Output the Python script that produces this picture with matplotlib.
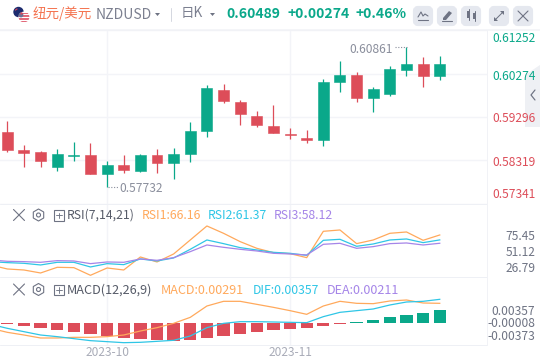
import matplotlib
matplotlib.use("Agg")
import matplotlib.pyplot as plt
from matplotlib.patches import Circle, FancyBboxPatch, Polygon, Rectangle, RegularPolygon
import numpy as np

plt.rcParams['font.family'] = ['Noto Sans CJK SC', 'DejaVu Sans']

W, H = 540, 364
DPI = 100
GREEN = '#0AA88A'
RED = '#DD4D59'
GRID = '#F3F4F8'
ORANGE = '#FFA95C'
BLUE = '#2FC6E6'
PURPLE = '#A585E8'
GREY = '#6E7383'

# candles (first trading day shown = index 0)
opens = [.58959, .58554, .58509, .58179, .58426, .58442, .58022, .58217, .58089, .58442,
         .58269, .58471, .58988, .59903, .59633, .59319, .59094, .58914, .58824, .58779,
         .60090, .60240, .59730, .59820, .60353, .60487, .60218]
highs = [.59213, .58667, .58532, .58577, .58734, .58712, .58307, .58442, .58465, .58577,
         .58599, .59184, .60015, .60038, .59678, .59431, .59566, .59049, .59004, .60150,
         .60555, .60308, .59971, .60443, .60861, .60645, .60667]
lows = [.58516, .58179, .58179, .58089, .58314, .58022, .57732, .58044, .58067, .58044,
        .57909, .58291, .58853, .59618, .59116, .59078, .58937, .58802, .58719, .58644,
        .59865, .59640, .59415, .59775, .60218, .59971, .60128]
closes = [.58561, .58494, .58314, .58465, .58442, .58022, .58217, .58112, .58442, .58269,
          .58465, .58982, .59948, .59656, .59364, .59116, .58937, .58898, .58779, .60083,
          .60240, .59730, .59926, .60375, .60487, .60218, .60489]

# indicator lines start one session before the first visible candle
rsi1 = [37.07, 33.18, 32.2, 29.3, 34.8, 34.48, 27.05, 34.15, 32.2, 44.82, 39.97, 47.74, 61.31, 74.89,
        67.78, 59.7, 53.23, 49.03, 48.06, 44.18, 69.72, 71.01, 57.76, 61.31, 67.78, 69.07, 60.99, 66.16]
rsi2 = [40.3, 39.33, 38.68, 37.07, 39.65, 39.65, 35.13, 38.36, 37.39, 42.89, 40.95, 43.86, 52.26, 61.31,
        57.76, 53.88, 51.61, 49.35, 48.38, 46.44, 60.99, 61.96, 55.17, 57.43, 61.31, 62.28, 58.73, 61.37]
rsi3 = [41.92, 40.62, 40.3, 39.65, 41.27, 40.95, 38.36, 39.98, 39.65, 42.89, 41.59, 44.18, 50.0, 56.46,
        54.2, 52.26, 50.64, 48.38, 47.73, 46.76, 57.11, 58.08, 53.23, 54.85, 57.76, 58.4, 56.46, 58.12]
dif = [-.00556, -.00702, -.00824, -.00946, -.01006, -.01079, -.01152, -.01189, -.01226, -.01213,
       -.01177, -.01140, -.00982, -.00678, -.00520, -.00459, -.00459, -.00471, -.00483, -.00495,
       -.00276, -.00118, -.00057, .00004, .00150, .00259, .00284, .00357]
dea = [-.00702, -.00848, -.00946, -.01055, -.01055, -.01031, -.01031, -.01006, -.00946, -.00800,
       -.00678, -.00520, -.00301, .00113, .00284, .00284, .00174, .00064, -.00057, -.00191,
       .00113, .00284, .00211, .00198, .00296, .00332, .00223, .00211]
hist = [-.00022, -.00067, -.00104, -.00149, -.00201, -.00246, -.00291, -.00336, -.00358, -.00373,
        -.00403, -.00380, -.00328, -.00291, -.00246, -.00194, -.00157, -.00134, -.00112, -.00067,
        -.00022, .00015, .00067, .00134, .00179, .00224, .00291]

price_ticks = [.61252, .60274, .59296, .58319, .57341]
price_labels = ['0.61252', '0.60274', '0.59296', '0.58319', '0.57341']
rsi_labels = ['75.45', '51.12', '26.79']
macd_labels = ['0.00357', '-0.00008', '-0.00373']
month_pos = [6, 17]
month_labels = ['2023-10', '2023-11']

fig = plt.figure(figsize=(W / DPI, H / DPI), dpi=DPI, facecolor='white')


def panel(top, bottom):
    return fig.add_axes([0, 1 - bottom / H, 487 / W, (bottom - top) / H])


XL = (-0.439, 28.84)
ax_p = panel(30, 204)
ax_r = panel(204, 277)
ax_m = panel(277, 345)
for a in (ax_p, ax_r, ax_m):
    a.set_xlim(*XL)
    a.set_xticks(month_pos)
    a.set_xticklabels([])
    a.tick_params(length=0)
    a.set_yticklabels([])
    a.grid(True, axis='x', color=GRID, lw=1)
    a.set_axisbelow(True)
    for s in a.spines.values():
        s.set_visible(False)

idx = np.arange(len(opens))
o, h, l, c = map(np.array, (opens, highs, lows, closes))
colors = [GREEN if cc >= oo else RED for oo, cc in zip(o, c)]
ax_p.set_ylim(.57341, .61252)
ax_p.set_yticks(price_ticks)
ax_p.grid(True, axis='y', color=GRID, lw=1)
ax_p.vlines(idx, l, h, colors=colors, lw=0.9)
ax_p.bar(idx, np.abs(c - o), bottom=np.minimum(o, c), width=0.66, color=colors, edgecolor=colors, lw=0.4)

xs = np.arange(-1, len(opens))
ax_r.set_ylim(25.4, 96.2)
ax_r.set_yticks([])
ax_r.plot(xs, rsi1, color=ORANGE, lw=0.9)
ax_r.plot(xs, rsi2, color=BLUE, lw=0.9)
ax_r.plot(xs, rsi3, color=PURPLE, lw=0.9)

ax_m.set_ylim(-.00492, .01029)
ax_m.set_yticks([])
ax_m.set_xticklabels(month_labels, fontsize=8.6, color='#A9ACB8')
ax_m.tick_params(axis='x', pad=1)
hcolors = [GREEN if v >= 0 else RED for v in hist]
ax_m.bar(idx, hist, width=0.74, color=hcolors, lw=0, zorder=3)
ax_l = ax_m.twinx()
ax_l.set_ylim(-.01311, .01172)
ax_l.set_xlim(*XL)
ax_l.set_yticks([])
for s in ax_l.spines.values():
    s.set_visible(False)
ax_l.plot(xs, dea, color=ORANGE, lw=0.9, zorder=4)
ax_l.plot(xs, dif, color=BLUE, lw=0.9, zorder=4)

# overlay in pixel coordinates for the chrome
ov = fig.add_axes([0, 0, 1, 1], zorder=10)
ov.set_xlim(0, W)
ov.set_ylim(H, 0)
ov.axis('off')
ov.patch.set_alpha(0)


def px(v):
    return v * 72 / DPI


def T(x, y, s, color, size=12, ha='left', weight='normal'):
    ov.text(x, y, s, color=color, fontsize=px(size), ha=ha, va='center', fontweight=weight)


def L(xs_, ys_, color='#6E7383', lw=1.0, **kw):
    ov.plot(xs_, ys_, color=color, lw=lw * 0.72, solid_capstyle='round', **kw)


# frame lines
L([0, 540], [30, 30], '#F1F2F6', 1.5)
L([0, 487], [204, 204], '#EEF0F5', 1)
L([0, 487], [277, 277], '#EEF0F5', 1)
L([0, 487], [345, 345], '#EEF0F5', 1)
L([487, 487], [30, 345], '#F1F2F6', 1)

# flag
ov.add_patch(Circle((18.5, 12), 5.2, fc='#1C2B6E', ec='none'))
ov.plot([15.5, 17], [10, 9], color='#D9475A', lw=0.8)
ov.plot([20.5], [13], marker='.', ms=1.5, color='#D9475A')
us = Circle((24, 17), 5.4, fc='white', ec='none')
ov.add_patch(us)
for yy in (13.2, 16, 18.8, 21.4):
    stripe = Rectangle((18, yy - 0.7), 12, 1.4, fc='#E2697A', ec='none')
    ov.add_patch(stripe)
    stripe.set_clip_path(us)
ov.add_patch(Circle((21, 15), 2.4, fc='#6B7399', ec='none'))

T(33, 13.5, '纽元/美元', '#F4734F', 13.5)
T(95.5, 15, 'NZDUSD', '#7C8090', 14)
ov.add_patch(Polygon([[155, 13], [160, 13], [157.5, 16]], fc='#6E7383', ec='none'))
L([171, 171], [8, 21], '#D5D8E0', 1)
T(181, 13.5, '日K', '#7C8090', 13.5)
ov.add_patch(Polygon([[210, 13], [215, 13], [212.5, 16]], fc='#6E7383', ec='none'))
T(226, 14, '0.60489', GREEN, 14, weight='bold')
T(287, 14, '+0.00274', GREEN, 14, weight='bold')
T(356, 14, '+0.46%', GREEN, 14, weight='bold')

for x0 in (413, 437, 461, 489, 513):
    ov.add_patch(FancyBboxPatch((x0 + 2, 8), 16, 16, boxstyle='round,pad=0,rounding_size=3',
                                mutation_scale=1, fc='#E5E8EF', ec='#E5E8EF', lw=3))
ic = '#6E7383'
L([418, 421, 423, 425, 428], [17, 12, 16, 14, 16], ic, 1.1)
L([418, 428], [20, 20], ic, 1.1)
ov.add_patch(Polygon([[443, 18], [449, 11], [452, 13], [446, 20], [443, 20]], fc=ic, ec='none'))
L([442, 452], [21, 21], ic, 1.1)
ov.add_patch(Rectangle((467, 11), 3, 7, fc=ic, ec='none'))
L([468.5, 468.5], [9, 20], ic, 1)
ov.add_patch(Rectangle((473, 13), 3, 6, fc=ic, ec='none'))
L([474.5, 474.5], [11, 21], ic, 1)
L([495, 503], [20, 12], ic, 1)
ov.add_patch(Polygon([[500, 11], [504, 11], [504, 15]], fc=ic, ec='none'))
ov.add_patch(Polygon([[494, 17], [494, 21], [498, 21]], fc=ic, ec='none'))
L([518, 528], [11, 21], ic, 1.1)
L([518, 528], [21, 11], ic, 1.1)

# right collapse tab
ov.add_patch(Polygon([[525, 75], [540, 65], [540, 127], [525, 127]], fc='#EEF0F4', ec='none'))
L([535, 531, 535], [90, 95, 100], '#6E7383', 1.2)

# price axis labels
price_y = [38, 76, 118, 162, 194]
for lab, yy, col in zip(price_labels, price_y, [GREEN, GREEN, RED, RED, RED]):
    T(536, yy, lab, col, 12, ha='right')
for lab, yy in zip(rsi_labels, [237, 253, 269]):
    T(535.5, yy, lab, GREY, 12, ha='right')
for lab, yy in zip(macd_labels, [311.5, 323.5, 336.5]):
    T(535, yy, lab, GREY, 12, ha='right')

# extreme annotations
T(349, 49.5, '0.60861', '#8A8E9C', 12)
ov.plot([395, 407], [47, 47], color='#8A8E9C', lw=0.8, ls=(0, (1, 1.5)))
T(119, 188.5, '0.57732', '#8A8E9C', 12)
ov.plot([108, 118], [186.7, 186.7], color='#8A8E9C', lw=0.8, ls=(0, (1, 1.5)))


def indicator_icons(y):
    L([13.5, 24.5], [y - 5.5, y + 5.5], ic, 1.1)
    L([13.5, 24.5], [y + 5.5, y - 5.5], ic, 1.1)
    ov.add_patch(RegularPolygon((38.5, y), 6, radius=6, fc='none', ec=ic, lw=0.8))
    ov.add_patch(Circle((38.5, y), 2, fc='none', ec=ic, lw=0.8))
    ov.add_patch(Rectangle((53.5, y - 5), 10.5, 10.5, fc='none', ec=ic, lw=0.8))
    L([56, 61.5], [y + 0.2, y + 0.2], ic, 0.9)
    L([58.7, 58.7], [y - 2.5, y + 3], ic, 0.9)


indicator_icons(215)
T(67, 215.5, 'RSI(7,14,21)', '#565B68', 12.2)
T(141.5, 215.5, 'RSI1:66.16', ORANGE, 12.2)
T(208, 215.5, 'RSI2:61.37', BLUE, 12.2)
T(274, 215.5, 'RSI3:58.12', PURPLE, 12.2)

indicator_icons(289.5)
T(67, 290, 'MACD(12,26,9)', '#565B68', 12.7)
T(160.5, 290, 'MACD:0.00291', ORANGE, 12.6)
T(253, 290, 'DIF:0.00357', BLUE, 12.2)
T(327, 290, 'DEA:0.00211', PURPLE, 12.6)

fig.savefig('out.png', dpi=DPI, facecolor='white')
